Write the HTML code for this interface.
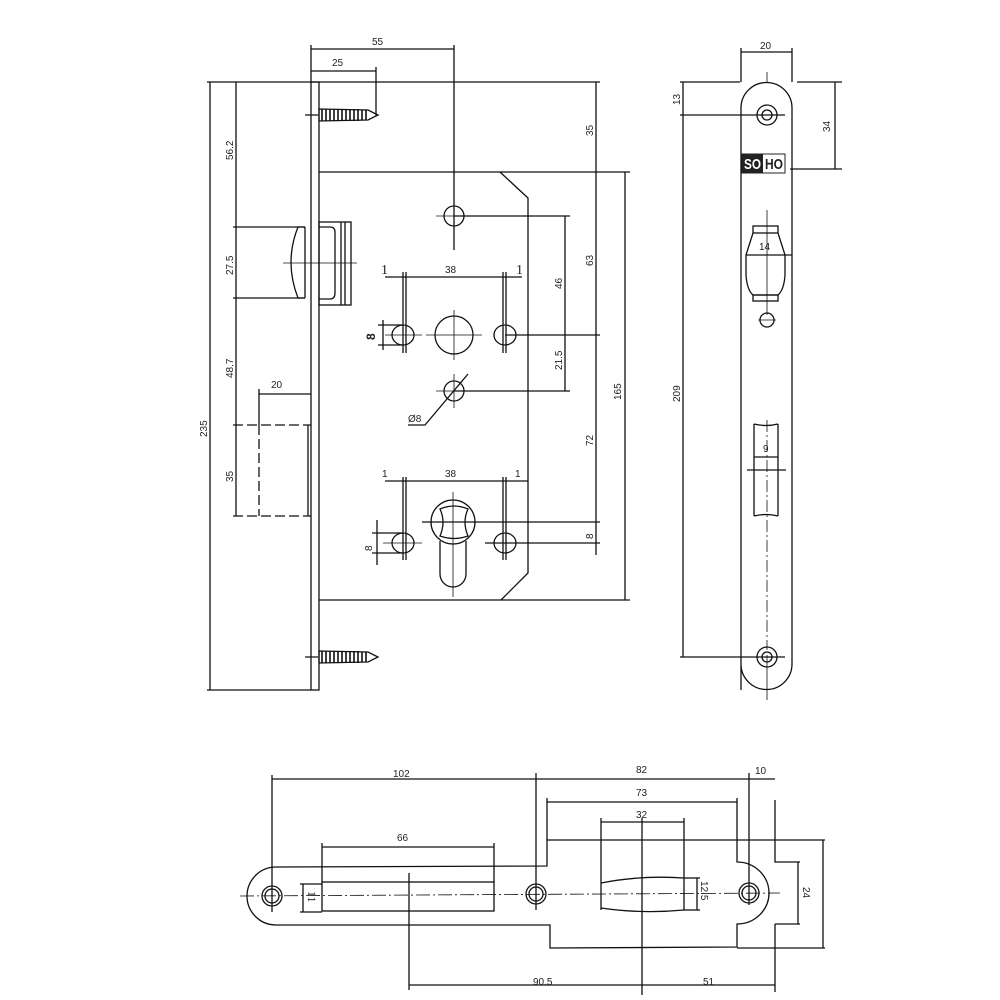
<!DOCTYPE html>
<html><head><meta charset="utf-8"><style>
html,body{margin:0;padding:0;background:#fff;}
svg{display:block;}
text{font-family:"Liberation Sans",sans-serif;font-size:10px;fill:#222;}
</style></head><body>
<svg width="1000" height="1000" viewBox="0 0 1000 1000" xmlns="http://www.w3.org/2000/svg">
<g stroke="#111" stroke-width="1.3" fill="none">
<!-- ===== MAIN VIEW ===== -->
<rect x="311" y="82" width="8" height="608"/>
<line x1="207" y1="82" x2="600" y2="82"/>
<line x1="207" y1="690" x2="311" y2="690"/>
<line x1="210" y1="82" x2="210" y2="690"/>
<line x1="236" y1="82" x2="236" y2="516"/>
<line x1="233" y1="227" x2="305" y2="227"/>
<line x1="233" y1="298" x2="305" y2="298"/>
<line x1="233" y1="425" x2="311" y2="425" stroke-dasharray="10,4"/>
<line x1="233" y1="516" x2="311" y2="516" stroke-dasharray="10,4"/>
<line x1="259" y1="425" x2="259" y2="516" stroke-dasharray="10,4"/>
<line x1="308" y1="425" x2="308" y2="516"/>
<line x1="259" y1="389" x2="259" y2="425"/>
<line x1="259" y1="394" x2="311" y2="394"/>
<path d="M305,227 L298,227 Q284,262 298,298 L305,298"/>
<line x1="305" y1="227" x2="305" y2="298"/>
<line x1="283" y1="263" x2="357" y2="263" stroke-width="0.8"/>
<rect x="319" y="222" width="32" height="83"/>
<path d="M319,227 L330,227 Q335,227 335,232 L335,293 Q335,299 330,299 L319,299"/>
<line x1="341" y1="222" x2="341" y2="305"/>
<line x1="345" y1="222" x2="345" y2="305"/>
<line x1="311" y1="45" x2="311" y2="82"/>
<line x1="311" y1="49" x2="454" y2="49"/>
<line x1="454" y1="45" x2="454" y2="250" />
<line x1="311" y1="71" x2="376" y2="71"/>
<line x1="376" y1="67" x2="376" y2="116"/>
<path d="M305,115 L318,115 M319,109 L368,110 L378,115 L368,120 L319,121 Z"/>
<path d="M305,657 L318,657 M319,651 L368,652 L378,657 L368,662 L319,663 Z"/>
</g>
<g stroke="#111" stroke-width="1.6">
<path d="M322,109v12M326,109v12M330,109v12M334,109v12M338,109v12M342,109v12M346,109v12M350,109v12M354,109v12M358,109v12M362,110v10M366,110v10"/>
<path d="M322,651v12M326,651v12M330,651v12M334,651v12M338,651v12M342,651v12M346,651v12M350,651v12M354,651v12M358,651v12M362,652v10M366,652v10"/>
</g>
<g stroke="#111" stroke-width="1.3" fill="none">
<line x1="319" y1="172" x2="630" y2="172"/>
<line x1="625" y1="172" x2="625" y2="600"/>
<line x1="319" y1="600" x2="630" y2="600"/>
<path d="M500,172 L528,198 L528,573 L501,600"/>
<line x1="596" y1="82" x2="596" y2="555"/>
<line x1="565" y1="216" x2="565" y2="391"/>
<line x1="454" y1="216" x2="570" y2="216"/>
<line x1="505" y1="335" x2="600" y2="335"/>
<line x1="454" y1="391" x2="570" y2="391"/>
<line x1="422" y1="522" x2="600" y2="522"/>
<line x1="485" y1="543" x2="600" y2="543"/>
<circle cx="454" cy="216" r="10"/>
<line x1="436" y1="216" x2="472" y2="216" stroke-width="0.8"/>
<ellipse cx="403" cy="335" rx="11" ry="10"/>
<circle cx="454" cy="335" r="19"/>
<ellipse cx="505" cy="335" rx="11" ry="10"/>
<line x1="385" y1="335" x2="422" y2="335" stroke-width="0.8"/>
<line x1="426" y1="335" x2="482" y2="335" stroke-width="0.8"/>
<line x1="454" y1="310" x2="454" y2="360" stroke-width="0.8"/>
<line x1="403" y1="272" x2="403" y2="353"/><line x1="406" y1="272" x2="406" y2="353"/>
<line x1="503" y1="272" x2="503" y2="353"/><line x1="506" y1="272" x2="506" y2="353"/>
<line x1="385" y1="277" x2="522" y2="277"/>
<line x1="383" y1="320" x2="383" y2="350"/>
<line x1="378" y1="325" x2="403" y2="325"/><line x1="378" y1="345" x2="403" y2="345"/>
<circle cx="454" cy="391" r="10"/>
<line x1="436" y1="391" x2="472" y2="391" stroke-width="0.8"/>
<line x1="454" y1="374" x2="454" y2="408" stroke-width="0.8"/>
<path d="M468,374 L425,425 L408,425"/>
<line x1="385" y1="481" x2="528" y2="481"/>
<line x1="403" y1="477" x2="403" y2="560"/><line x1="406" y1="477" x2="406" y2="560"/>
<line x1="503" y1="477" x2="503" y2="560"/><line x1="506" y1="477" x2="506" y2="560"/>
<circle cx="453" cy="522" r="22"/>
<path d="M440,509 Q454,503 468,509 Q462,522 468,536 Q454,541 440,536 Q446,522 440,509 Z"/>
<path d="M440,541 L440,574 A13,13 0 0 0 466,574 L466,541"/>
<line x1="453" y1="492" x2="453" y2="597" stroke-width="0.8"/>
<ellipse cx="403" cy="543" rx="11" ry="10"/>
<ellipse cx="505" cy="543" rx="11" ry="10"/>
<line x1="383" y1="543" x2="422" y2="543" stroke-width="0.8"/>
<line x1="377" y1="520" x2="377" y2="565"/>
<line x1="372" y1="533" x2="403" y2="533"/><line x1="372" y1="553" x2="403" y2="553"/>

<!-- ===== RIGHT VIEW ===== -->
<path d="M741,690 L741,108 A25.5,25.5 0 0 1 792,108 L792,664 A25.5,25.5 0 0 1 741,664"/>
<circle cx="767" cy="115" r="10"/><circle cx="767" cy="115" r="5"/>
<circle cx="767" cy="657" r="10"/><circle cx="767" cy="657" r="5"/>
<line x1="741" y1="48" x2="741" y2="82"/><line x1="792" y1="48" x2="792" y2="82"/>
<line x1="741" y1="52" x2="792" y2="52"/>
<line x1="680" y1="82" x2="740" y2="82"/>
<line x1="797" y1="82" x2="842" y2="82"/>
<line x1="790" y1="169" x2="842" y2="169"/>
<line x1="835" y1="82" x2="835" y2="169"/>
<line x1="683" y1="82" x2="683" y2="657"/>
<line x1="680" y1="115" x2="785" y2="115"/>
<line x1="680" y1="657" x2="785" y2="657"/>
<line x1="767" y1="72" x2="767" y2="82" stroke-width="0.8"/>
<line x1="767" y1="655" x2="767" y2="700" stroke-width="0.8"/>
<rect x="753" y="226" width="25" height="7"/>
<rect x="753" y="295" width="25" height="6"/>
<path d="M753,233 L746,255 L746,275 Q747,290 753,295 L778,295 Q784,290 785,275 L785,255 L778,233"/>
<line x1="746" y1="255" x2="792" y2="255"/>
<line x1="767" y1="210" x2="767" y2="315" stroke-width="0.8"/>
<circle cx="767" cy="320" r="7"/>
<line x1="758" y1="320" x2="776" y2="320" stroke-width="0.8"/>
<path d="M754,424 L754,516 M778,424 L778,516 M754,424 Q766,427 778,424 M754,516 Q766,513 778,516"/>
<line x1="754" y1="457" x2="778" y2="457"/>
<line x1="747" y1="470" x2="786" y2="470"/>
<line x1="767" y1="420" x2="767" y2="650" stroke-width="0.8" stroke-dasharray="12,3,2,3"/>

<!-- ===== BOTTOM STRIKE ===== -->
<path d="M547,866 L276,867 A29,29 0 0 0 276,925 L550,925 L550,948 L737,947 L737,924 A32,31 0 0 0 737,862 L737,840 L547,840 Z"/>
<line x1="737" y1="840" x2="825" y2="840"/>
<line x1="737" y1="948" x2="825" y2="948"/>
<path d="M775,800 L775,862 L800,862 M775,924 L800,924 M775,924 L775,992"/>
<line x1="798" y1="862" x2="798" y2="924"/>
<line x1="823" y1="840" x2="823" y2="948"/>
<circle cx="272" cy="896" r="10"/><circle cx="272" cy="896" r="7"/>
<circle cx="536" cy="894" r="10"/><circle cx="536" cy="894" r="7"/>
<circle cx="749" cy="893" r="10"/><circle cx="749" cy="893" r="7"/>
<line x1="240" y1="896" x2="780" y2="893" stroke-width="0.8" stroke-dasharray="14,3,2,3"/>
<line x1="272" y1="775" x2="272" y2="912"/>
<line x1="272" y1="779" x2="775" y2="779"/>
<line x1="536" y1="773" x2="536" y2="910"/>
<line x1="749" y1="773" x2="749" y2="905"/>
<line x1="547" y1="802" x2="737" y2="802"/>
<line x1="547" y1="798" x2="547" y2="840"/>
<line x1="737" y1="798" x2="737" y2="840"/>
<rect x="322" y="882" width="172" height="29"/>
<line x1="303" y1="884" x2="303" y2="912"/>
<line x1="300" y1="884" x2="322" y2="884"/><line x1="300" y1="912" x2="322" y2="912"/>
<line x1="322" y1="843" x2="322" y2="882"/><line x1="494" y1="843" x2="494" y2="882"/>
<line x1="322" y1="847" x2="494" y2="847"/>
<line x1="409" y1="873" x2="409" y2="990"/>
<line x1="409" y1="985" x2="775" y2="985"/>
<line x1="642" y1="818" x2="642" y2="995"/>
<path d="M601,818 L601,910 M684,818 L684,910"/>
<line x1="601" y1="822" x2="684" y2="822"/>
<path d="M601,883 Q642,875 684,878 M601,908 Q642,914 684,910"/>
<line x1="684" y1="878" x2="700" y2="878"/><line x1="684" y1="910" x2="700" y2="910"/>
<line x1="697" y1="878" x2="697" y2="910"/>
</g>
<!-- SOHO -->
<rect x="742" y="154" width="43" height="19" fill="#fff" stroke="#222" stroke-width="1"/>
<rect x="742" y="154" width="21" height="19" fill="#222"/>
<text x="744" y="169" textLength="17" lengthAdjust="spacingAndGlyphs" style="font-size:15px;font-weight:bold;fill:#fff">SO</text>
<text x="765" y="169" textLength="18" lengthAdjust="spacingAndGlyphs" style="font-size:15px;font-weight:bold">HO</text>

<text x="372" y="45">55</text>
<text x="332" y="66">25</text>
<text x="271" y="388">20</text>
<text x="445" y="273">38</text>
<text x="381" y="274" style="font-family:'Liberation Serif',serif;font-size:14px">1</text>
<text x="516" y="274" style="font-family:'Liberation Serif',serif;font-size:14px">1</text>
<text x="445" y="477">38</text>
<text x="382" y="477">1</text>
<text x="515" y="477">1</text>
<text x="408" y="422">Ø8</text>
<text x="759" y="250">14</text>
<text x="763" y="452">9</text>
<text x="760" y="49">20</text>
<text x="393" y="777">102</text>
<text x="636" y="773">82</text>
<text x="755" y="774">10</text>
<text x="636" y="796">73</text>
<text x="636" y="818">32</text>
<text x="397" y="841">66</text>
<text x="533" y="985">90.5</text>
<text x="703" y="985">51</text>
<g>
<text transform="translate(233,160) rotate(-90)">56.2</text>
<text transform="translate(233,275) rotate(-90)">27.5</text>
<text transform="translate(233,378) rotate(-90)">48.7</text>
<text transform="translate(233,482) rotate(-90)">35</text>
<text transform="translate(207,437) rotate(-90)">235</text>
<text transform="translate(593,136) rotate(-90)">35</text>
<text transform="translate(593,266) rotate(-90)">63</text>
<text transform="translate(562,289) rotate(-90)">46</text>
<text transform="translate(562,370) rotate(-90)">21.5</text>
<text transform="translate(621,400) rotate(-90)">165</text>
<text transform="translate(593,446) rotate(-90)">72</text>
<text transform="translate(593,539) rotate(-90)">8</text>
<text transform="translate(375,340) rotate(-90)" style="font-size:12px;font-weight:bold">8</text>
<text transform="translate(372,551) rotate(-90)">8</text>
<text transform="translate(680,105) rotate(-90)">13</text>
<text transform="translate(830,132) rotate(-90)">34</text>
<text transform="translate(680,402) rotate(-90)">209</text>
<text transform="translate(308,891) rotate(90)" style="font-family:'Liberation Serif',serif;font-size:12px">11</text>
<text transform="translate(701,881) rotate(90)">12.5</text>
<text transform="translate(803,887) rotate(90)">24</text>
</g>
</svg>
</body></html>
